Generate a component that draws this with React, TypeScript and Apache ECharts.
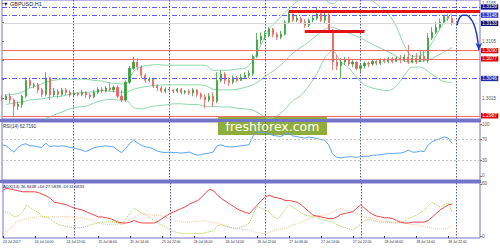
import React, { useEffect, useRef } from 'react';
import * as echarts from 'echarts';

// ---------- tick labels ----------
const dateTicks = ['24 Jul 2017', '24 Jul 14:00', '24 Jul 22:00', '25 Jul 06:00', '25 Jul 14:00', '25 Jul 22:00', '26 Jul 06:00', '26 Jul 14:00', '26 Jul 22:00', '27 Jul 06:00', '27 Jul 14:00', '27 Jul 22:00', '28 Jul 06:00', '28 Jul 14:00', '28 Jul 22:00'];
const firstHour = 6; // first bar: 24 Jul 06:00, one bar per hour
const slotCount = 121; // hourly slots on the time axis (incl. right shift)
const priceTicks = [1.3015, 1.3045, 1.3075, 1.3105, 1.3135, 1.3165];
const priceLabels = [1.3015, 1.3105, 1.3165]; // the others sit under the level labels
const rsiTicks = [0, 30, 70, 100];
const rsiLevels = [70, 30];
const adxTicks = [0, 60];

// ---------- GBPUSD H1 candles ----------
const opens = [1.3015, 1.3013, 1.3018, 1.3012, 1.3002, 1.3005, 1.3018, 1.3043, 1.3035, 1.3036,
  1.3028, 1.3021, 1.3047, 1.3020, 1.3026, 1.3021, 1.3028, 1.3024, 1.3020, 1.3023,
  1.3021, 1.3024, 1.3020, 1.3017, 1.3024, 1.3029, 1.3026, 1.3031, 1.3028, 1.3032,
  1.3018, 1.3012, 1.3040, 1.3062, 1.3072, 1.3064, 1.3051, 1.3043, 1.3045, 1.3034,
  1.3031, 1.3026, 1.3029, 1.3028, 1.3026, 1.3029, 1.3024, 1.3026, 1.3023, 1.3028,
  1.3021, 1.3017, 1.3012, 1.3018, 1.3010, 1.3043, 1.3053, 1.3043, 1.3040, 1.3047,
  1.3043, 1.3048, 1.3051, 1.3054, 1.3081, 1.3107, 1.3113, 1.3114, 1.3124, 1.3116,
  1.3111, 1.3116, 1.3135, 1.3148, 1.3138, 1.3141, 1.3135, 1.3130, 1.3138, 1.3141,
  1.3148, 1.3138, 1.3146, 1.3122, 1.3072, 1.3066, 1.3072, 1.3075, 1.3069, 1.3072,
  1.3062, 1.3066, 1.3070, 1.3069, 1.3073, 1.3070, 1.3075, 1.3073, 1.3077, 1.3073,
  1.3078, 1.3075, 1.3080, 1.3072, 1.3078, 1.3073, 1.3081, 1.3075, 1.3110, 1.3119,
  1.3127, 1.3135, 1.3144, 1.3141];
const closes = [1.3013, 1.3018, 1.3012, 1.3002, 1.3005, 1.3018, 1.3043, 1.3035, 1.3036, 1.3028,
  1.3021, 1.3047, 1.3020, 1.3026, 1.3021, 1.3028, 1.3024, 1.3020, 1.3023, 1.3021,
  1.3024, 1.3020, 1.3017, 1.3024, 1.3029, 1.3026, 1.3031, 1.3028, 1.3032, 1.3018,
  1.3012, 1.3040, 1.3062, 1.3072, 1.3064, 1.3051, 1.3043, 1.3045, 1.3034, 1.3031,
  1.3026, 1.3029, 1.3028, 1.3026, 1.3029, 1.3024, 1.3026, 1.3023, 1.3028, 1.3021,
  1.3017, 1.3012, 1.3018, 1.3010, 1.3043, 1.3053, 1.3043, 1.3040, 1.3047, 1.3043,
  1.3048, 1.3051, 1.3054, 1.3081, 1.3107, 1.3113, 1.3114, 1.3124, 1.3116, 1.3111,
  1.3116, 1.3135, 1.3148, 1.3138, 1.3141, 1.3135, 1.3130, 1.3138, 1.3141, 1.3148,
  1.3138, 1.3146, 1.3122, 1.3072, 1.3066, 1.3072, 1.3075, 1.3069, 1.3072, 1.3062,
  1.3066, 1.3070, 1.3069, 1.3073, 1.3070, 1.3075, 1.3073, 1.3077, 1.3073, 1.3078,
  1.3075, 1.3080, 1.3072, 1.3078, 1.3073, 1.3081, 1.3075, 1.3110, 1.3119, 1.3127,
  1.3135, 1.3144, 1.3141, 1.3133];
const lows = [1.3010, 1.3012, 1.3007, 1.2987, 1.2996, 1.2999, 1.3015, 1.3031, 1.3031, 1.3023,
  1.3017, 1.3018, 1.3012, 1.3017, 1.3015, 1.3018, 1.3020, 1.3017, 1.3017, 1.3018,
  1.3018, 1.3015, 1.3013, 1.3015, 1.3021, 1.3023, 1.3024, 1.3026, 1.3024, 1.3015,
  1.3009, 1.3009, 1.3037, 1.3059, 1.3059, 1.3047, 1.3039, 1.3040, 1.3031, 1.3026,
  1.3023, 1.3023, 1.3024, 1.3023, 1.3023, 1.3021, 1.3021, 1.3020, 1.3018, 1.3017,
  1.3013, 1.2999, 1.3009, 1.3001, 1.3007, 1.3040, 1.3037, 1.3034, 1.3037, 1.3040,
  1.3042, 1.3045, 1.3047, 1.3050, 1.3078, 1.3100, 1.3107, 1.3111, 1.3111, 1.3107,
  1.3108, 1.3114, 1.3132, 1.3135, 1.3135, 1.3132, 1.3126, 1.3127, 1.3135, 1.3138,
  1.3135, 1.3133, 1.3119, 1.3059, 1.3059, 1.3046, 1.3067, 1.3066, 1.3064, 1.3059,
  1.3056, 1.3062, 1.3064, 1.3066, 1.3067, 1.3067, 1.3070, 1.3070, 1.3070, 1.3072,
  1.3070, 1.3072, 1.3069, 1.3070, 1.3069, 1.3072, 1.3072, 1.3070, 1.3107, 1.3116,
  1.3124, 1.3132, 1.3137, 1.3130];
const highs = [1.3020, 1.3021, 1.3023, 1.3015, 1.3010, 1.3020, 1.3048, 1.3047, 1.3039, 1.3039,
  1.3031, 1.3056, 1.3048, 1.3031, 1.3029, 1.3031, 1.3031, 1.3028, 1.3026, 1.3024,
  1.3028, 1.3026, 1.3023, 1.3028, 1.3032, 1.3032, 1.3034, 1.3040, 1.3035, 1.3035,
  1.3028, 1.3043, 1.3066, 1.3080, 1.3078, 1.3067, 1.3054, 1.3048, 1.3047, 1.3037,
  1.3034, 1.3032, 1.3031, 1.3029, 1.3031, 1.3031, 1.3028, 1.3029, 1.3031, 1.3029,
  1.3024, 1.3021, 1.3023, 1.3024, 1.3056, 1.3059, 1.3056, 1.3048, 1.3051, 1.3050,
  1.3053, 1.3056, 1.3059, 1.3084, 1.3118, 1.3119, 1.3121, 1.3127, 1.3126, 1.3119,
  1.3121, 1.3138, 1.3152, 1.3149, 1.3146, 1.3144, 1.3140, 1.3141, 1.3146, 1.3159,
  1.3151, 1.3151, 1.3149, 1.3124, 1.3083, 1.3078, 1.3080, 1.3080, 1.3075, 1.3073,
  1.3069, 1.3073, 1.3073, 1.3077, 1.3077, 1.3078, 1.3078, 1.3080, 1.3080, 1.3081,
  1.3083, 1.3084, 1.3099, 1.3083, 1.3086, 1.3091, 1.3091, 1.3118, 1.3127, 1.3135,
  1.3141, 1.3146, 1.3148, 1.3146];

// ---------- Bollinger bands, read at every second bar (bars 1, 3, 5 ... 113) ----------
const bbUpper = [1.3020, 1.3021, 1.3024, 1.3031, 1.3035, 1.3040, 1.3043, 1.3045, 1.3045, 1.3045,
  1.3045, 1.3043, 1.3042, 1.3039, 1.3038, 1.3037, 1.3057, 1.3065, 1.3067, 1.3068,
  1.3067, 1.3067, 1.3067, 1.3067, 1.3067, 1.3067, 1.3059, 1.3059, 1.3059, 1.3061,
  1.3062, 1.3075, 1.3099, 1.3124, 1.3137, 1.3150, 1.3162, 1.3172, 1.3175, 1.3176,
  1.3170, 1.3164, 1.3172, 1.3172, 1.3178, 1.3179, 1.3169, 1.3159, 1.3148, 1.3128,
  1.3098, 1.3081, 1.3082, 1.3093, 1.3114, 1.3135, 1.3149];
const bbMiddle = [1.3005, 1.3007, 1.3009, 1.3012, 1.3013, 1.3015, 1.3017, 1.3018, 1.3021, 1.3023,
  1.3024, 1.3025, 1.3027, 1.3026, 1.3025, 1.3024, 1.3029, 1.3032, 1.3034, 1.3035,
  1.3036, 1.3036, 1.3036, 1.3036, 1.3036, 1.3035, 1.3029, 1.3028, 1.3028, 1.3029,
  1.3032, 1.3036, 1.3044, 1.3053, 1.3062, 1.3073, 1.3086, 1.3095, 1.3104, 1.3114,
  1.3124, 1.3127, 1.3122, 1.3118, 1.3113, 1.3107, 1.3100, 1.3094, 1.3088, 1.3081,
  1.3074, 1.3072, 1.3073, 1.3075, 1.3081, 1.3088, 1.3095];
const bbLower = [1.2971, 1.2971, 1.2972, 1.2975, 1.2979, 1.2983, 1.2988, 1.2993, 1.2998, 1.3001,
  1.3002, 1.3007, 1.3011, 1.3013, 1.3012, 1.3012, 1.3000, 1.2998, 1.3001, 1.3003,
  1.3004, 1.3006, 1.3006, 1.3005, 1.3005, 1.3002, 1.3002, 1.3001, 1.3001, 1.2999,
  1.2998, 1.2996, 1.2989, 1.2983, 1.2987, 1.2997, 1.3011, 1.3019, 1.3034, 1.3053,
  1.3078, 1.3090, 1.3073, 1.3063, 1.3048, 1.3036, 1.3031, 1.3028, 1.3027, 1.3034,
  1.3051, 1.3064, 1.3064, 1.3057, 1.3048, 1.3041, 1.3040];

// ---------- indicators ----------
const rsi = [60, 58, 52, 46, 55, 60, 62, 58, 58, 56,
  55, 63, 56, 58, 57, 58, 57, 55, 54, 52,
  50, 47, 50, 54, 56, 57, 58, 57, 56, 50,
  45, 52, 62, 69, 64, 59, 56, 55, 52, 48,
  46, 45, 46, 45, 45, 44, 45, 46, 43, 40,
  41, 43, 44, 46, 58, 60, 57, 56, 56, 57,
  58, 59, 60, 76, 85, 84, 83, 82, 78, 77,
  76, 80, 82, 77, 76, 74, 73, 75, 74, 72,
  70, 69, 60, 42, 36, 35, 36, 37, 37, 36,
  37, 38, 38, 40, 40, 41, 42, 43, 43, 44,
  44, 46, 50, 46, 46, 48, 47, 60, 66, 69,
  72, 75, 73, 62.72];
const adx = [53, 55, 54, 53, 52, 51, 51, 51, 51, 50,
  48, 46, 43, 39, 38, 37, 36, 34, 32, 31,
  30, 28, 26, 24, 22, 22, 21, 20, 18, 16,
  15, 15, 16, 18, 16, 15, 15, 15, 15, 17,
  20, 23, 26, 28, 30, 32, 34, 37, 39, 41,
  45, 50, 54, 52, 47, 43, 40, 37, 34, 31,
  29, 27, 26, 31, 36, 41, 45, 47, 45, 44,
  43, 41, 41, 40, 39, 36, 32, 28, 24, 23,
  22, 21, 20, 20, 22, 25, 26, 27, 28, 32,
  36, 32, 28, 25, 23, 22, 21, 21, 20, 18,
  16, 15, 15, 16, 16, 16, 16, 18, 22, 26,
  30, 33, 36, 36.94];
const plusDI = [28, 27, 25, 22, 24, 28, 36, 32, 29, 27,
  22, 22, 19, 16, 13, 12, 11, 10, 10, 9,
  10, 11, 13, 14, 15, 16, 16, 17, 16, 15,
  13, 20, 27, 32, 29, 26, 24, 21, 18, 15,
  12, 10, 7, 5, 4, 3, 3, 3, 3, 3,
  3, 4, 5, 6, 12, 13, 11, 10, 9, 9,
  10, 12, 15, 26, 34, 32, 30, 28, 22, 20,
  24, 31, 36, 33, 30, 27, 24, 23, 22, 22,
  19, 18, 17, 16, 13, 11, 10, 8, 7, 10,
  14, 18, 19, 18, 17, 16, 16, 16, 15, 15,
  16, 17, 20, 22, 24, 27, 30, 35, 39, 36,
  33, 36, 38, 27.58];
const minusDI = [6, 5, 9, 15, 17, 19, 20, 21, 21, 22,
  22, 22, 22, 22, 22, 22, 22, 22, 21, 21,
  21, 20, 19, 17, 15, 14, 13, 13, 13, 14,
  15, 16, 19, 21, 24, 26, 25, 25, 24, 24,
  23, 22, 19, 18, 17, 16, 16, 16, 17, 17,
  17, 18, 16, 16, 15, 13, 12, 10, 9, 8,
  8, 7, 7, 5, 4, 3, 3, 4, 6, 7,
  8, 9, 11, 13, 14, 16, 18, 20, 22, 23,
  24, 24, 25, 28, 30, 32, 30, 29, 28, 26,
  24, 22, 21, 20, 19, 18, 17, 17, 16, 16,
  15, 15, 14, 13, 13, 12, 11, 10, 9, 8,
  8, 8, 9, 11.58];

// ---------- drawn levels ----------
const dashLevels = [1.3159, 1.3146, 1.3046];
const bidLevel = 1.3133;
const redLevels = [1.3090, 1.3077, 1.2987];
const resistFrom = [72, 76];
const resistTo = [120, 91];
const resistPrice = [1.3152, 1.3121];
const forecastX = [114.2, 114.8, 115.6, 116.6, 117.6, 118.5, 119.2, 119.7];
const forecastY = [1.3130, 1.3141, 1.3146, 1.3146, 1.3141, 1.3131, 1.3115, 1.3091];

const cats = Array.from({ length: slotCount }, (_, i) => String(i));
const font = '"Liberation Sans", Arial, sans-serif';

export default function App() {
  const ref = useRef<HTMLDivElement>(null);
  useEffect(() => {
    if (!ref.current) return;
    const chart = echarts.init(ref.current, null, { renderer: 'svg' });
    const frame = '#7474c8';
    const up = '#36a03a';
    const down = '#f25a5a';
    const labelAt = (i: number) => i % 8 === 0 && i < dateTicks.length * 8;
    const daySep = (i: number) => (firstHour + i) % 24 === 0;

    const catAxis = (gi: number, labels: boolean) => ({
      type: 'category', gridIndex: gi, data: cats, boundaryGap: false,
      axisLine: { show: false },
      axisTick: { show: labels, interval: labelAt, length: 2, lineStyle: { color: '#333' } },
      axisLabel: {
        show: labels, interval: labelAt, formatter: (_v: string, i: number) => dateTicks[i / 8],
        fontSize: 3.4, color: '#1e1e3c', align: 'left', margin: 2, fontFamily: font,
      },
      splitLine: { show: true, interval: daySep, lineStyle: { color: '#5a5abc', type: [1.5, 1.5], width: 1 } },
    });
    const valAxis = (gi: number, min: number, max: number, ticks: number[], labels: number[], fmt: (v: number) => string, pad: number) => ({
      type: 'value', gridIndex: gi, position: 'right', min, max,
      axisLine: { show: false }, splitLine: { show: false },
      axisTick: { show: true, customValues: ticks, length: 2, lineStyle: { color: '#777' } },
      axisLabel: { customValues: labels, formatter: fmt, fontSize: 4.6, color: '#555', margin: 2, fontFamily: font, padding: [0, 0, pad, 0] },
    });
    const lab = (v: number, bg: string) => ({
      show: true, position: 'end', distance: 1, formatter: v.toFixed(4), color: '#fff',
      backgroundColor: bg, fontSize: 4.8, lineHeight: 5, padding: [0.3, 1.3, 0, 1.3], fontFamily: font,
    });
    const dashBg = ['#14148a', '#2a3ad4', '#1c2cae'];
    const segStyle = { color: '#e41414', width: 3, type: 'solid' };
    const bbStyle = (d: number[]) => ({
      type: 'line', xAxisIndex: 0, yAxisIndex: 0, data: d.map((v, k) => [2 * k + 1, v]),
      showSymbol: false, smooth: 0.3, lineStyle: { color: '#8ed6aa', width: 1 }, silent: true, z: 1,
    });
    const grid = (top: number, height: number) => ({
      left: 2, right: 20, top, height, show: true, borderColor: frame, borderWidth: 1,
    });

    chart.setOption({
      animation: false,
      backgroundColor: '#ffffff',
      grid: [grid(0, 119), grid(122, 58), grid(183, 55)],
      xAxis: [
        catAxis(0, false), catAxis(1, false), catAxis(2, true),
        { type: 'value', gridIndex: 0, min: 0, max: slotCount - 1, show: false },
      ],
      yAxis: [
        valAxis(0, 1.2982, 1.3170, priceTicks, priceLabels, (v) => v.toFixed(4), 2.5),
        valAxis(1, -7.7, 103.85, rsiTicks, rsiTicks, (v) => String(v), 0),
        valAxis(2, -2.3, 61.15, adxTicks, adxTicks, (v) => String(v), 0),
      ],
      graphic: [
        { type: 'rect', shape: { x: 0, y: 119, width: 481, height: 3 }, style: { fill: frame }, z: 50, silent: true },
        { type: 'rect', shape: { x: 0, y: 180, width: 481, height: 3 }, style: { fill: frame }, z: 50, silent: true },
        { type: 'text', x: 3, y: 1, z: 50, style: { text: '▼ GBPUSD,H1', fontSize: 5.5, fill: '#1a1a2a', fontFamily: font } },
        { type: 'text', x: 3, y: 123.5, z: 50, style: { text: 'RSI(14) 62.7191', fontSize: 4.5, fill: '#23234a', fontFamily: font } },
        { type: 'text', x: 3, y: 184, z: 50, style: { text: 'ADX(14) 36.9438 +DI:27.5839 -DI:11.5833', fontSize: 4.3, fill: '#23234a', fontFamily: font } },
        {
          type: 'group', x: 218, y: 117, z: 60,
          children: [
            { type: 'rect', shape: { x: 0, y: 0, width: 109, height: 18 }, style: { fill: '#8fad3c' } },
            { type: 'text', x: 54.5, y: 9.5, style: { text: 'freshforex.com', fontSize: 12.5, fill: '#ffffff', align: 'center', verticalAlign: 'middle', fontFamily: '"DejaVu Sans", sans-serif' } },
          ],
        },
      ],
      series: [
        bbStyle(bbUpper), bbStyle(bbMiddle), bbStyle(bbLower),
        {
          type: 'candlestick', xAxisIndex: 0, yAxisIndex: 0, barWidth: 1.6, silent: true, z: 3,
          data: opens.map((o, i) => [o, closes[i], lows[i], highs[i]]),
          itemStyle: { color: up, color0: down, borderColor: up, borderColor0: down, borderWidth: 0.8 },
          markLine: {
            symbol: ['none', 'none'], silent: true, animation: false, precision: 4,
            data: [
              ...dashLevels.map((v, k) => ({ yAxis: v, lineStyle: { color: '#5c5cf2', type: [5, 2, 1, 2], width: 1 }, label: lab(v, dashBg[k]) })),
              { yAxis: bidLevel, lineStyle: { color: '#d8d8d8', type: 'solid', width: 1 }, label: lab(bidLevel, '#12126e') },
              ...redLevels.map((v) => ({ yAxis: v, lineStyle: { color: '#f46868', type: 'solid', width: 1 }, label: lab(v, '#e60000') })),
              ...resistFrom.map((f, k) => [
                { coord: [f, resistPrice[k]], lineStyle: segStyle, label: { show: false } },
                { coord: [resistTo[k], resistPrice[k]], lineStyle: segStyle, label: { show: false } },
              ]),
            ],
          },
        },
        {
          type: 'line', xAxisIndex: 3, yAxisIndex: 0, clip: false, z: 10, silent: true,
          smooth: 0.4,
          data: forecastX.map((x, i) => (i === forecastX.length - 1
            ? { value: [x, forecastY[i]], symbol: 'arrow', symbolSize: [5, 7], symbolRotate: 180, itemStyle: { color: '#2038c8' } }
            : { value: [x, forecastY[i]], symbol: 'none' })),
          lineStyle: { color: '#2038c8', width: 1.5 },
        },
        {
          type: 'line', xAxisIndex: 1, yAxisIndex: 1, data: rsi, showSymbol: false, silent: true,
          lineStyle: { color: '#5aa4f2', width: 1 },
          markLine: {
            symbol: ['none', 'none'], silent: true, label: { show: false },
            lineStyle: { color: '#c4c4c4', type: [2, 2], width: 1 },
            data: rsiLevels.map((v) => ({ yAxis: v })),
          },
        },
        { type: 'line', xAxisIndex: 2, yAxisIndex: 2, data: minusDI, showSymbol: false, silent: true, lineStyle: { color: '#f6c49a', width: 1, type: [1, 1] } },
        { type: 'line', xAxisIndex: 2, yAxisIndex: 2, data: plusDI, showSymbol: false, silent: true, lineStyle: { color: '#a8cc48', width: 1, type: [1, 1] } },
        { type: 'line', xAxisIndex: 2, yAxisIndex: 2, data: adx, showSymbol: false, silent: true, lineStyle: { color: '#f04444', width: 1 } },
      ],
    });
    return () => chart.dispose();
  }, []);
  return <div ref={ref} style={{ width: 500, height: 250, position: 'absolute', left: 0, top: 0 }} />;
}
